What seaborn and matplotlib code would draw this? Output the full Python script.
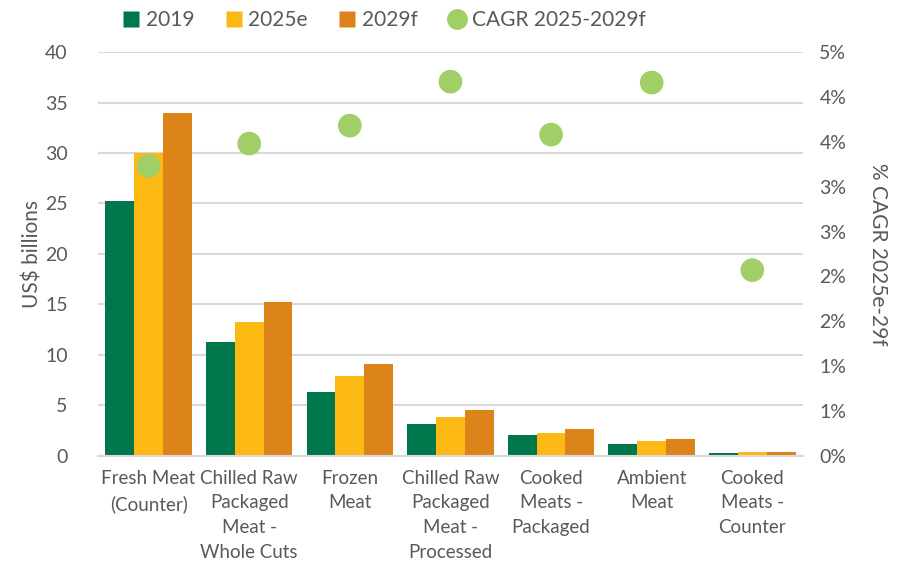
import numpy as np
import pandas as pd
import matplotlib
matplotlib.use("Agg")
import matplotlib.pyplot as plt
import seaborn as sns
from matplotlib.lines import Line2D
from matplotlib.ticker import FuncFormatter, MultipleLocator

categories = ["Fresh Meat\n(Counter)", "Chilled Raw\nPackaged\nMeat -\nWhole Cuts", "Frozen\nMeat",
              "Chilled Raw\nPackaged\nMeat -\nProcessed", "Cooked\nMeats -\nPackaged", "Ambient\nMeat",
              "Cooked\nMeats -\nCounter"]
series = ["2019", "2025e", "2029f"]
v2019 = [25.2, 11.3, 6.3, 3.2, 2.1, 1.2, 0.3]
v2025 = [30.0, 13.3, 7.9, 3.9, 2.3, 1.5, 0.35]
v2029 = [34.0, 15.2, 9.1, 4.5, 2.7, 1.7, 0.4]
cagr = [3.23, 3.48, 3.68, 4.17, 3.58, 4.16, 2.07]

colors = {"2019": "#00774A", "2025e": "#FDB913", "2029f": "#DC841A"}
cagr_color = "#A0CE67"
text_color = "#595959"

sns.set_theme(style="white")
plt.rcParams["font.family"] = ["Lato", "DejaVu Sans"]

df = pd.DataFrame({
    "category": categories * 3,
    "series": sum([[s] * len(categories) for s in series], []),
    "value": v2019 + v2025 + v2029,
})
dfc = pd.DataFrame({"category": categories, "cagr": cagr})

fig, ax = plt.subplots(figsize=(9.1, 5.72), dpi=100)
fig.subplots_adjust(left=0.108, right=0.882, top=0.909, bottom=0.203)

sns.barplot(data=df, x="category", y="value", hue="series", palette=colors,
            width=0.86, saturation=1, ax=ax, legend=False, zorder=2, linewidth=0)
ax.set_ylim(0, 40)
ax.yaxis.set_major_locator(MultipleLocator(5))
ax.set_xlim(-0.5, len(categories) - 0.5)
ax.set_xlabel("")
ax.set_ylabel("US$ billions", fontsize=15, color=text_color, labelpad=2)
ax.grid(axis="y", color="#D9D9D9", linewidth=1.5, zorder=0)
ax.set_axisbelow(True)
for s in ["top", "right", "left"]:
    ax.spines[s].set_visible(False)
ax.spines["bottom"].set_color("#D9D9D9")
ax.spines["bottom"].set_linewidth(1.5)
ax.tick_params(axis="y", labelsize=14, colors=text_color, length=0, pad=22)
ax.tick_params(axis="x", labelsize=13.5, colors=text_color, length=0, pad=10)
for t in ax.get_xticklabels():
    t.set_linespacing(1.55)

ax2 = ax.twinx()
sns.scatterplot(data=dfc, x="category", y="cagr", color=cagr_color, s=290,
                edgecolor="none", ax=ax2, zorder=3)
ax2.set_ylim(0, 4.5)
ax2.yaxis.set_major_locator(MultipleLocator(0.5))
ax2.yaxis.set_major_formatter(FuncFormatter(lambda v, p: f"{int(np.floor(v + 0.5 + 1e-9))}%"))
ax2.set_ylabel("% CAGR 2025e-29f", fontsize=15, color=text_color, rotation=270, labelpad=30)
ax2.tick_params(axis="y", labelsize=14, colors=text_color, length=0, pad=12)
for s in ["top", "right", "left", "bottom"]:
    ax2.spines[s].set_visible(False)
ax2.set_xlabel("")

handles = [Line2D([0], [0], marker="s", linestyle="none", markersize=12,
                  markerfacecolor=colors[s], markeredgecolor="none") for s in series]
handles.append(Line2D([0], [0], marker="o", linestyle="none", markersize=15,
                      markerfacecolor=cagr_color, markeredgecolor="none"))
labels = series + ["CAGR 2025-2029f"]
leg = fig.legend(handles, labels, loc="upper center", bbox_to_anchor=(0.42, 1.015), ncol=4,
                 frameon=False, fontsize=15, handletextpad=0.1, columnspacing=1.3,
                 handlelength=1.2)
for t in leg.get_texts():
    t.set_color(text_color)

fig.savefig("out.png", dpi=100)
